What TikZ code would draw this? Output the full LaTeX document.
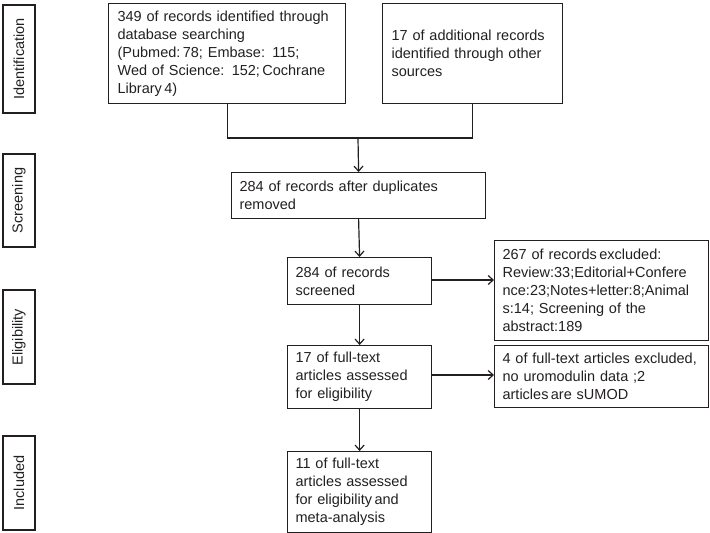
\documentclass[tikz,border=0pt]{standalone}
\usepackage{fontspec}
\setmainfont{Liberation Sans}
\usetikzlibrary{arrows.meta}
\definecolor{ink}{HTML}{231F20}
\begin{document}
\begin{tikzpicture}[x=1pt,y=-1pt,
  every node/.style={font=\fontsize{14.5}{18}\selectfont, text=ink},
  box/.style={draw=ink, line width=1.2pt, inner sep=0pt, align=left, anchor=north west},
  side/.style={draw=ink, line width=1.2pt, inner sep=0pt, rotate=90, anchor=center},
  conn/.style={draw=ink, line width=1.2pt},
  arr/.style={conn, -{Straight Barb[length=5pt,width=9pt,line width=1.2pt]}}
]
\useasboundingbox (0,0) rectangle (710,533);
% side labels
\node[side, minimum width=108pt, minimum height=32pt] (sid) at (19,59) {Identification};
\node[side, minimum width=93pt, minimum height=32pt] (ssc) at (19,200.5) {Screening};
\node[side, minimum width=94pt, minimum height=32pt] (sel) at (19,337) {Eligibility};
\node[side, minimum width=94pt, minimum height=32pt] (sin) at (19,483) {Included};
% boxes
\node[box, minimum width=237pt, minimum height=100pt, text width=219pt] (b1) at (108,3)
 {349 of records identified through\\database searching\\(Pubmed:\,78; Embase: 115;\\Wed of Science: 152;\,Cochrane\\Library\,4)};
\node[box, minimum width=180pt, minimum height=100pt, text width=162pt] (b2) at (382,3)
 {17 of additional records\\identified through other\\sources};
\node[box, minimum width=254pt, minimum height=46pt, text width=238pt] (b3) at (231,172)
 {284 of records after duplicates\\removed};
\node[box, minimum width=144pt, minimum height=47pt, text width=128pt] (b4) at (287,257)
 {284 of records\\screened};
\node[box, minimum width=214pt, minimum height=100pt, text width=198pt] (b5) at (494,240)
 {267 of records\,excluded:\\Review:33;Editorial+Confere\\nce:23;Notes+letter:8;Animal\\s:14; Screening of the\\abstract:189};
\node[box, minimum width=144pt, minimum height=63pt, text width=128pt] (b6) at (287,345)
 {17 of full-text\\articles assessed\\for eligibility};
\node[box, minimum width=214pt, minimum height=62pt, text width=198pt] (b7) at (494,345)
 {4 of full-text articles excluded,\\no uromodulin data ;2\\articles\,are sUMOD};
\node[box, minimum width=144pt, minimum height=81pt, text width=128pt] (b8) at (287,451)
 {11 of full-text\\articles assessed\\for eligibility\,and\\meta-analysis};
% connectors
\coordinate (j) at (358,138);
\draw[conn] (b1.south) |- (j) -| (b2.south);
\draw[arr] (j) -- (b3.north);
\draw[arr] (b3.south) -- (b4.north);
\draw[arr] (b4.south) -- (b6.north);
\draw[arr] (b6.south) -- (b8.north);
\draw[arr] (b4.east |- 0,280) -- (b5.west |- 0,280);
\draw[arr] (b6.east |- 0,375) -- (b7.west |- 0,375);
\end{tikzpicture}
\end{document}
